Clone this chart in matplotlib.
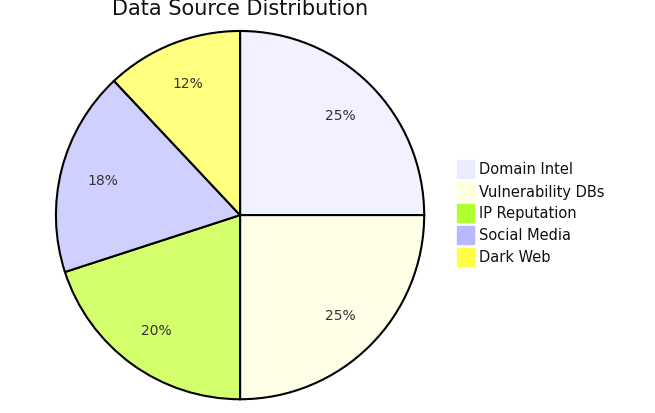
import matplotlib
matplotlib.use("Agg")
import matplotlib.pyplot as plt
from matplotlib.patches import Rectangle

labels = ["Domain Intel", "Vulnerability DBs", "IP Reputation", "Social Media", "Dark Web"]
values = [25, 25, 20, 18, 12]
pie_colors = ["#F1F1FF", "#FFFFE8", "#D2FF6B", "#D0D0FF", "#FFFF80"]
legend_colors = ["#ECECFF", "#FFFFDE", "#B0FF30", "#B8B8FF", "#FFFF44"]

W, H = 655, 414
fig = plt.figure(figsize=(W/100, H/100), dpi=100)
ax = fig.add_axes([0.084, 0.031, 0.565, 0.894])
ax.pie(values, colors=pie_colors, startangle=90, counterclock=False,
       autopct=lambda p: f"{p:.0f}%", pctdistance=0.77,
       wedgeprops=dict(edgecolor="black", linewidth=1.5),
       textprops=dict(fontsize=10, color="#333333"))
ax.set_aspect("auto")
ax.set_xlim(-1.005, 1.005)
ax.set_ylim(-1.005, 1.005)
fig.text(240/W, 1-9/H, "Data Source Distribution", ha="center", va="center", fontsize=15, color="#111111")

for i, (lab, c) in enumerate(zip(labels, legend_colors)):
    yc = 170 + 22*i
    fig.patches.append(Rectangle((457/W, 1-(yc+9)/H), 17/W, 18/H, transform=fig.transFigure,
                                 facecolor=c, edgecolor=c))
    fig.text(479/W, 1-yc/H, lab, ha="left", va="center", fontsize=10.5, color="#111111")

fig.savefig("out.png", dpi=100)
